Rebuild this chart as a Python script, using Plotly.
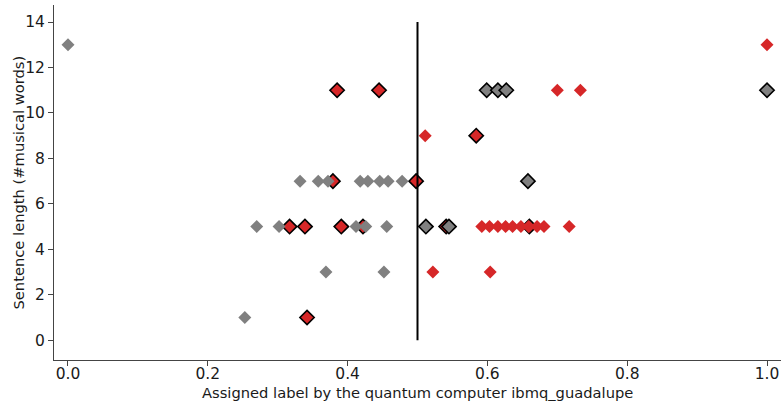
import plotly.graph_objects as go

# Red, drawn with black edge
red_edge_x = [0.385, 0.445, 0.584, 0.379, 0.498, 0.317, 0.339, 0.391, 0.422, 0.541, 0.660, 0.342]
red_edge_y = [11, 11, 9, 7, 7, 5, 5, 5, 5, 5, 5, 1]

# Grey, drawn with black edge
grey_edge_x = [0.599, 0.615, 0.627, 1.0, 0.658, 0.512, 0.545]
grey_edge_y = [11, 11, 11, 11, 7, 5, 5]

# Grey, no edge
grey_x = [0.0, 0.332, 0.358, 0.372, 0.418, 0.429, 0.446, 0.458, 0.478,
          0.270, 0.302, 0.412, 0.426, 0.456, 0.369, 0.452, 0.253]
grey_y = [13, 7, 7, 7, 7, 7, 7, 7, 7,
          5, 5, 5, 5, 5, 3, 3, 1]

# Red, no edge
red_x = [1.0, 0.700, 0.733, 0.511, 0.592, 0.603, 0.615, 0.626, 0.636, 0.648,
         0.659, 0.671, 0.681, 0.717, 0.522, 0.604]
red_y = [13, 11, 11, 9, 5, 5, 5, 5, 5, 5,
         5, 5, 5, 5, 3, 3]

threshold = 0.5
line_y = [0, 14]

x_ticks = [0.0, 0.2, 0.4, 0.6, 0.8, 1.0]
x_ticktext = ["0.0", "0.2", "0.4", "0.6", "0.8", "1.0"]
y_ticks = [0, 2, 4, 6, 8, 10, 12, 14]

x_title = "Assigned label by the quantum computer ibmq_guadalupe"
y_title = "Sentence length (#musical words)"

RED = "#d62728"
GREY = "#808080"
TXT = "#1a1a1a"

fig = go.Figure()
fig.add_trace(go.Scatter(x=red_edge_x, y=red_edge_y, mode="markers",
                         marker=dict(symbol="diamond", size=11, color=RED,
                                     line=dict(color="black", width=1.6))))
fig.add_trace(go.Scatter(x=grey_edge_x, y=grey_edge_y, mode="markers",
                         marker=dict(symbol="diamond", size=11, color=GREY,
                                     line=dict(color="black", width=1.6))))
fig.add_trace(go.Scatter(x=grey_x, y=grey_y, mode="markers",
                         marker=dict(symbol="diamond", size=10, color=GREY,
                                     line=dict(width=0))))
fig.add_trace(go.Scatter(x=red_x, y=red_y, mode="markers",
                         marker=dict(symbol="diamond", size=10, color=RED,
                                     line=dict(width=0))))
fig.add_trace(go.Scatter(x=[threshold, threshold], y=line_y, mode="lines",
                         line=dict(color="black", width=2)))

axis_common = dict(showgrid=False, zeroline=False, showline=True,
                   linecolor="#444444", linewidth=1, ticks="outside",
                   ticklen=5, tickwidth=1, tickcolor="#444444",
                   tickfont=dict(size=15.5, color=TXT),
                   mirror=False, automargin=False)

fig.update_layout(
    width=781, height=403,
    margin=dict(l=54, r=0, t=5, b=43),
    plot_bgcolor="white", paper_bgcolor="white",
    showlegend=False,
    font=dict(family="DejaVu Sans", color=TXT),
    xaxis=dict(range=[-0.02, 1.02], tickvals=x_ticks, ticktext=x_ticktext,
               ticklabelstandoff=-6, **axis_common),
    yaxis=dict(range=[-0.87, 14.75], tickvals=y_ticks, **axis_common),
    annotations=[
        dict(text=x_title, xref="paper", yref="paper", x=0.5, y=0,
             xanchor="center", yanchor="middle", yshift=-32,
             showarrow=False, font=dict(size=14.7, color=TXT)),
        dict(text=y_title, xref="paper", yref="paper", x=0, y=0.5,
             xanchor="center", yanchor="middle", xshift=-36, textangle=-90,
             showarrow=False, font=dict(size=14.7, color=TXT)),
    ],
)

fig.write_html("out.html", config={"displayModeBar": False},
               post_script="document.body.style.margin='0';document.body.style.overflow='hidden';")
